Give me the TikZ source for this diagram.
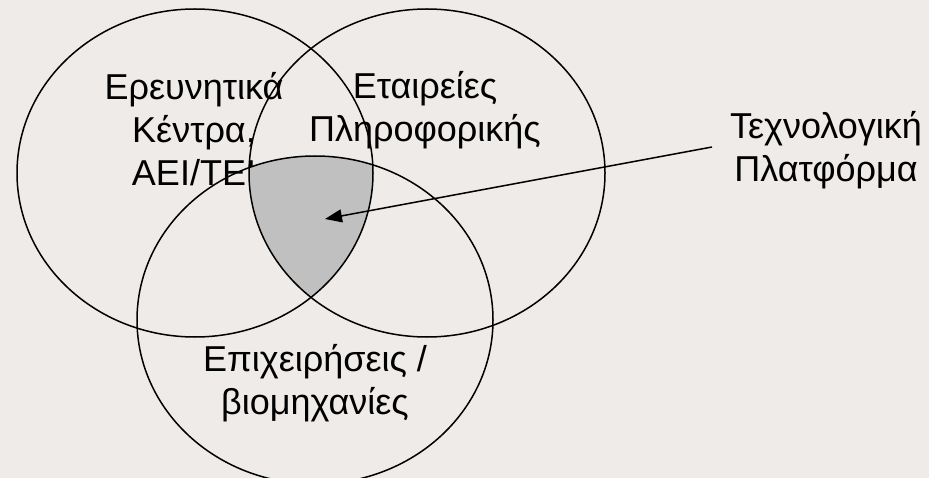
\documentclass[tikz,border=0pt]{standalone}
\usepackage{fontspec}
\setmainfont{Liberation Sans}
\usetikzlibrary{arrows.meta}
\definecolor{paper}{RGB}{238,235,232}
\definecolor{coregray}{RGB}{192,192,192}

\begin{document}
\begin{tikzpicture}[
    x=1pt, y=-1pt,
    setring/.style={draw, line width=1.5pt, x radius=178pt, y radius=164pt},
    setlabel/.style={align=center, inner sep=0pt, font=\fontsize{36}{43}\selectfont},
    arrow/.style={-{Triangle[length=17pt, width=13pt]}, line width=1.5pt}
]
\fill[paper] (0,0) rectangle (929,478);
\useasboundingbox (0,0) rectangle (929,478);
\clip (0,0) rectangle (929,478);

% labels of the three sets
\node[setlabel] (research) at (194,129) {Ερευνητικά\\Κέντρα,\\ΑΕΙ/ΤΕΙ};
\node[setlabel] (firms) at (425,110) {Εταιρείες\\Πληροφορικής};
\node[setlabel] (industry) at (315,383) {Επιχειρήσεις /\\βιομηχανίες};
\node[setlabel] (platform) at (826,150) {Τεχνολογική\\Πλατφόρμα};

% common part
\begin{scope}
    \clip (195,173) ellipse [x radius=178pt, y radius=164pt];
    \clip (427,173) ellipse [x radius=178pt, y radius=164pt];
    \fill[coregray] (315,320) ellipse [x radius=178pt, y radius=164pt];
\end{scope}

\path[setring] (195,173) ellipse [];
\path[setring] (427,173) ellipse [];
\path[setring] (315,320) ellipse [];

\coordinate (core) at (325,219);
\coordinate (tail) at (712,147);
\draw[arrow] (tail) -- (core);
\end{tikzpicture}
\end{document}
